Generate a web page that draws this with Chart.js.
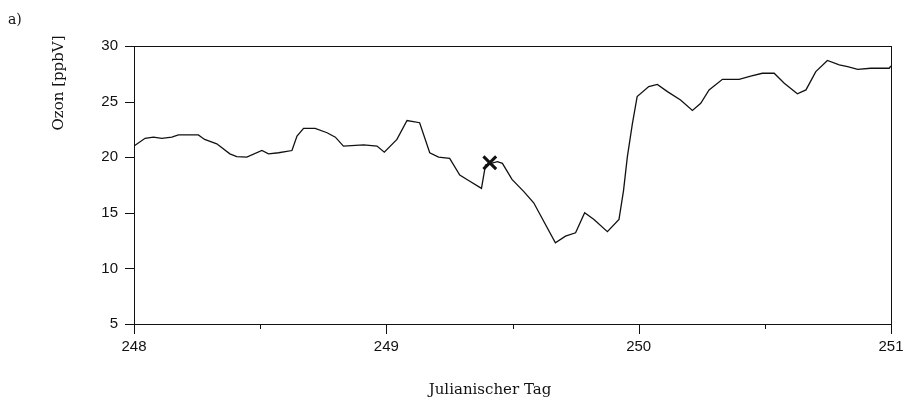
<!DOCTYPE html>
<html lang="de">
<head>
    <meta charset="UTF-8">
    <title>Ozon</title>
    <style>
        html, body { margin: 0; padding: 0; background: #fff; }
        #wrap { width: 904px; height: 402px; }
    </style>
</head>
<body>
    <div id="wrap"><canvas id="myChart" width="904" height="402"></canvas></div>

    <script src="https://cdn.jsdelivr.net/npm/chart.js"></script>
    <script>
        // Julianischer Tag / Ozon-Mischungsverhaeltnis
        const tage = [248.000, 248.044, 248.077, 248.110, 248.150, 248.176, 248.255, 248.280, 248.328, 248.380,
                      248.407, 248.447, 248.507, 248.533, 248.573, 248.626, 248.646, 248.672, 248.718, 248.765,
                      248.798, 248.830, 248.910, 248.963, 248.992, 249.042, 249.082, 249.132, 249.172, 249.207,
                      249.251, 249.291, 249.326, 249.377, 249.393, 249.440, 249.460, 249.498, 249.545, 249.584,
                      249.670, 249.710, 249.750, 249.786, 249.823, 249.876, 249.922, 249.940, 249.955, 249.975,
                      249.994, 250.040, 250.074, 250.114, 250.166, 250.213, 250.246, 250.279, 250.332, 250.398,
                      250.444, 250.490, 250.537, 250.577, 250.629, 250.663, 250.702, 250.748, 250.795, 250.828,
                      250.868, 250.920, 250.993, 251.000];
        const ozon = [21.0, 21.7, 21.8, 21.7, 21.8, 22.0, 22.0, 21.6, 21.2, 20.3,
                      20.05, 20.0, 20.6, 20.3, 20.4, 20.6, 21.9, 22.6, 22.6, 22.2,
                      21.8, 21.0, 21.1, 21.0, 20.45, 21.6, 23.3, 23.1, 20.4, 20.0,
                      19.9, 18.4, 17.9, 17.2, 19.3, 19.6, 19.45, 18.0, 16.9, 15.9,
                      12.3, 12.9, 13.2, 15.0, 14.4, 13.3, 14.4, 17.0, 20.0, 23.0,
                      25.45, 26.35, 26.55, 25.9, 25.15, 24.2, 24.85, 26.05, 27.0, 27.0,
                      27.3, 27.55, 27.55, 26.65, 25.7, 26.05, 27.7, 28.7, 28.3, 28.15,
                      27.9, 28.0, 28.0, 28.2];

        // markierter Zeitpunkt
        const markeTag = [249.41];
        const markeOzon = [19.5];

        const xTicks = [248, 248.5, 249, 249.5, 250, 250.5, 251];
        const yTicks = [5, 10, 15, 20, 25, 30];

        const linie = tage.map((t, i) => ({ x: t, y: ozon[i] }));
        const marke = markeTag.map((t, i) => ({ x: t, y: markeOzon[i] }));

        // Rahmen, Tickstriche und Achsentitel selbst zeichnen
        const rahmenPlugin = {
            id: 'rahmen',
            afterDraw(chart) {
                const c = chart.ctx;
                const a = chart.chartArea;
                const xs = chart.scales.x;
                const ys = chart.scales.y;
                c.save();
                c.strokeStyle = '#111';
                c.lineWidth = 1;
                c.strokeRect(a.left + 0.5, a.top + 0.5, a.right - a.left, a.bottom - a.top);

                c.beginPath();
                yTicks.forEach(v => {
                    const y = Math.round(ys.getPixelForValue(v)) + 0.5;
                    c.moveTo(a.left - 9, y);
                    c.lineTo(a.left, y);
                });
                xTicks.forEach(v => {
                    const x = Math.round(xs.getPixelForValue(v)) + 0.5;
                    const len = Number.isInteger(v) ? 10 : 5;
                    c.moveTo(x, a.bottom);
                    c.lineTo(x, a.bottom + len);
                });
                c.stroke();

                c.fillStyle = '#111';
                c.font = '14px "DejaVu Serif"';
                c.textAlign = 'left';
                c.textBaseline = 'middle';
                c.fillText('a)', 8, 20);

                c.font = '15px "DejaVu Serif"';
                c.textAlign = 'center';
                c.fillText('Julianischer Tag', 490, 390);

                c.translate(59, 83);
                c.rotate(-Math.PI / 2);
                c.fillText('Ozon [ppbV]', 0, 0);
                c.restore();
            }
        };

        const ctx = document.getElementById('myChart').getContext('2d');
        const myChart = new Chart(ctx, {
            type: 'scatter',
            data: {
                datasets: [
                    {
                        data: linie,
                        showLine: true,
                        borderColor: '#111',
                        borderWidth: 1.3,
                        pointRadius: 0,
                        tension: 0
                    },
                    {
                        data: marke,
                        showLine: false,
                        pointStyle: 'crossRot',
                        pointRadius: 9,
                        borderColor: '#111',
                        borderWidth: 3
                    }
                ]
            },
            options: {
                responsive: false,
                animation: false,
                devicePixelRatio: 1,
                layout: { padding: { top: 46, right: 13, left: 0, bottom: 0 } },
                plugins: {
                    legend: { display: false },
                    tooltip: { enabled: false }
                },
                scales: {
                    x: {
                        type: 'linear',
                        min: 248,
                        max: 251,
                        afterFit: s => {
                            s.height = 78;
                            s.paddingLeft = 0;
                            s.paddingRight = 0;
                        },
                        afterBuildTicks: s => { s.ticks = xTicks.map(v => ({ value: v })); },
                        grid: { display: false, drawTicks: false },
                        border: { display: true, color: '#111' },
                        ticks: {
                            autoSkip: false,
                            maxRotation: 0,
                            padding: 14,
                            color: '#111',
                            font: { family: 'Liberation Sans', size: 15 },
                            callback: v => Number.isInteger(v) ? String(v) : ''
                        }
                    },
                    y: {
                        min: 5,
                        max: 30,
                        afterFit: s => {
                            s.width = 134;
                            s.paddingTop = 0;
                            s.paddingBottom = 0;
                        },
                        afterBuildTicks: s => { s.ticks = yTicks.map(v => ({ value: v })); },
                        grid: { display: false, drawTicks: false },
                        border: { display: true, color: '#111' },
                        ticks: {
                            padding: 16,
                            color: '#111',
                            font: { family: 'Liberation Sans', size: 15 }
                        }
                    }
                }
            },
            plugins: [rahmenPlugin]
        });
    </script>
</body>
</html>
